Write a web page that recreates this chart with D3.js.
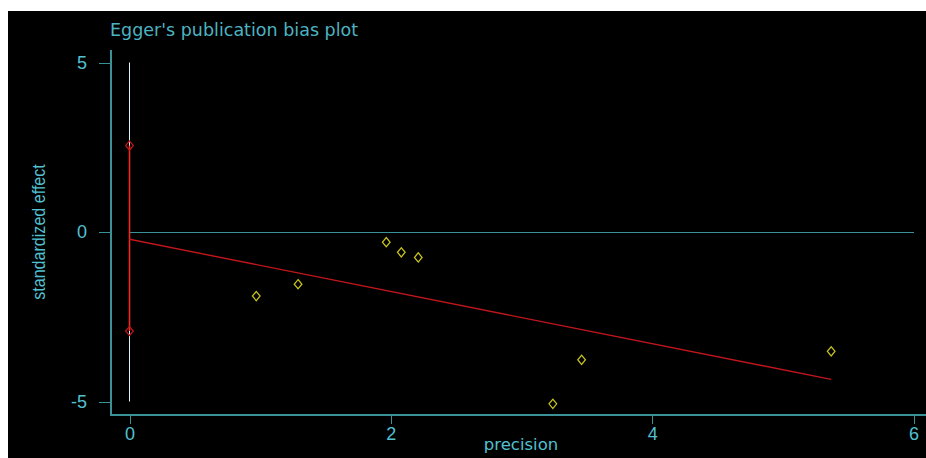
<!DOCTYPE html>
<html>
<head>
<meta charset="utf-8">
<script src="https://cdn.jsdelivr.net/npm/d3@7"></script>
<style>
  body { margin: 0; background: #fff; }
  svg { display: block; }
</style>
</head>
<body>
<div id="chart"></div>
<script>
// data
let precision = [0.97, 1.29, 1.965, 2.08, 2.21, 3.46, 3.24, 5.37];
let stdEffect = [-1.89, -1.54, -0.30, -0.60, -0.75, -3.77, -5.07, -3.52];
let eggerFit = [-0.215, -0.7695];   // intercept, slope
let interceptCI = [-2.92, 2.55];
let xTicks = [0, 2, 4, 6];
let yTicks = [-5, 0, 5];

let W = 926, H = 458;
let teal = "#3b9198", cyan = "#52c0d0";

let svg = d3.select("#chart").append("svg")
  .attr("width", W).attr("height", H);

svg.append("rect").attr("x", 8).attr("y", 11)
  .attr("width", W - 8).attr("height", H - 11).attr("fill", "#000");

let x = d3.scaleLinear().domain([0, 6]).range([129.5, 913.5]);
let y = d3.scaleLinear().domain([-5, 5]).range([401.5, 62.5]);

let left = 111, bottom = 415;

// title
svg.append("text").attr("x", 110).attr("y", 36)
  .style("font-family", "'DejaVu Sans', Verdana, sans-serif")
  .style("font-size", "17.5px").style("fill", "#4db3c2")
  .text("Egger's publication bias plot");

// axes
let yAxis = svg.append("g").attr("transform", `translate(${left},0)`)
  .call(d3.axisLeft(y).tickValues(yTicks).tickSize(12).tickPadding(12).tickFormat(d3.format("d")));
yAxis.select(".domain").remove();
yAxis.selectAll("line").attr("stroke", teal).attr("stroke-width", 1).attr("shape-rendering", "crispEdges");
yAxis.selectAll("text").style("fill", cyan)
  .style("font-family", "Arial, 'Liberation Sans', sans-serif").style("font-size", "18px")
  .text(d => d < 0 ? "-" + Math.abs(d) : d);

let xAxis = svg.append("g").attr("transform", `translate(0,${bottom})`)
  .call(d3.axisBottom(x).tickValues(xTicks).tickSize(9).tickPadding(3).tickFormat(d3.format("d")));
xAxis.select(".domain").remove();
xAxis.selectAll("line").attr("stroke", teal).attr("stroke-width", 1).attr("shape-rendering", "crispEdges");
xAxis.selectAll("text").style("fill", cyan)
  .style("font-family", "Arial, 'Liberation Sans', sans-serif").style("font-size", "18px");

svg.append("line").attr("x1", left).attr("x2", left).attr("y1", 50).attr("y2", bottom + 1)
  .attr("stroke", teal).attr("stroke-width", 2).attr("shape-rendering", "crispEdges");
svg.append("line").attr("x1", left).attr("x2", W).attr("y1", bottom).attr("y2", bottom)
  .attr("stroke", teal).attr("stroke-width", 2).attr("shape-rendering", "crispEdges");

// axis titles
svg.append("text").attr("transform", `translate(45,${y(0)}) rotate(-90) scale(0.92,1)`)
  .attr("text-anchor", "middle")
  .style("font-family", "'Liberation Sans Narrow', 'Arial Narrow', Arial, sans-serif")
  .style("font-size", "17.5px").style("fill", cyan)
  .text("standardized effect");

svg.append("text").attr("x", 521).attr("y", 450).attr("text-anchor", "middle")
  .style("font-family", "'DejaVu Sans', Verdana, sans-serif")
  .style("font-size", "16.5px").style("fill", cyan)
  .text("precision");

// zero line
svg.append("line").attr("x1", x(0)).attr("x2", x(6)).attr("y1", y(0)).attr("y2", y(0))
  .attr("stroke", teal).attr("stroke-width", 1).attr("shape-rendering", "crispEdges");

// vertical line at precision 0
svg.append("line").attr("x1", x(0)).attr("x2", x(0)).attr("y1", y(5)).attr("y2", y(-5))
  .attr("stroke", "#d8f4f6").attr("stroke-width", 1);
svg.append("line").attr("x1", x(0)).attr("x2", x(0))
  .attr("y1", y(interceptCI[1])).attr("y2", y(interceptCI[0]))
  .attr("stroke", "#f02a22").attr("stroke-width", 1.6);

// regression line
let xMax = d3.max(precision);
svg.append("line")
  .attr("x1", x(0)).attr("y1", y(eggerFit[0]))
  .attr("x2", x(xMax)).attr("y2", y(eggerFit[0] + eggerFit[1] * xMax))
  .attr("stroke", "#c0161c").attr("stroke-width", 1.4);

let diamond = d3.symbol().type(d3.symbolDiamond).size(30);

// CI markers
svg.selectAll(".ci").data(interceptCI).enter().append("path")
  .attr("d", diamond)
  .attr("transform", d => `translate(${x(0)},${y(d)}) scale(1.3,0.9)`)
  .attr("fill", "none").attr("stroke", "#c0181c").attr("stroke-width", 1.1);

// study points
svg.selectAll(".pt").data(precision).enter().append("path")
  .attr("d", diamond)
  .attr("transform", (d, i) => `translate(${x(d)},${y(stdEffect[i])}) scale(1.3,0.9)`)
  .attr("fill", "none").attr("stroke", "#c8c41c").attr("stroke-width", 1.1);
</script>
</body>
</html>
